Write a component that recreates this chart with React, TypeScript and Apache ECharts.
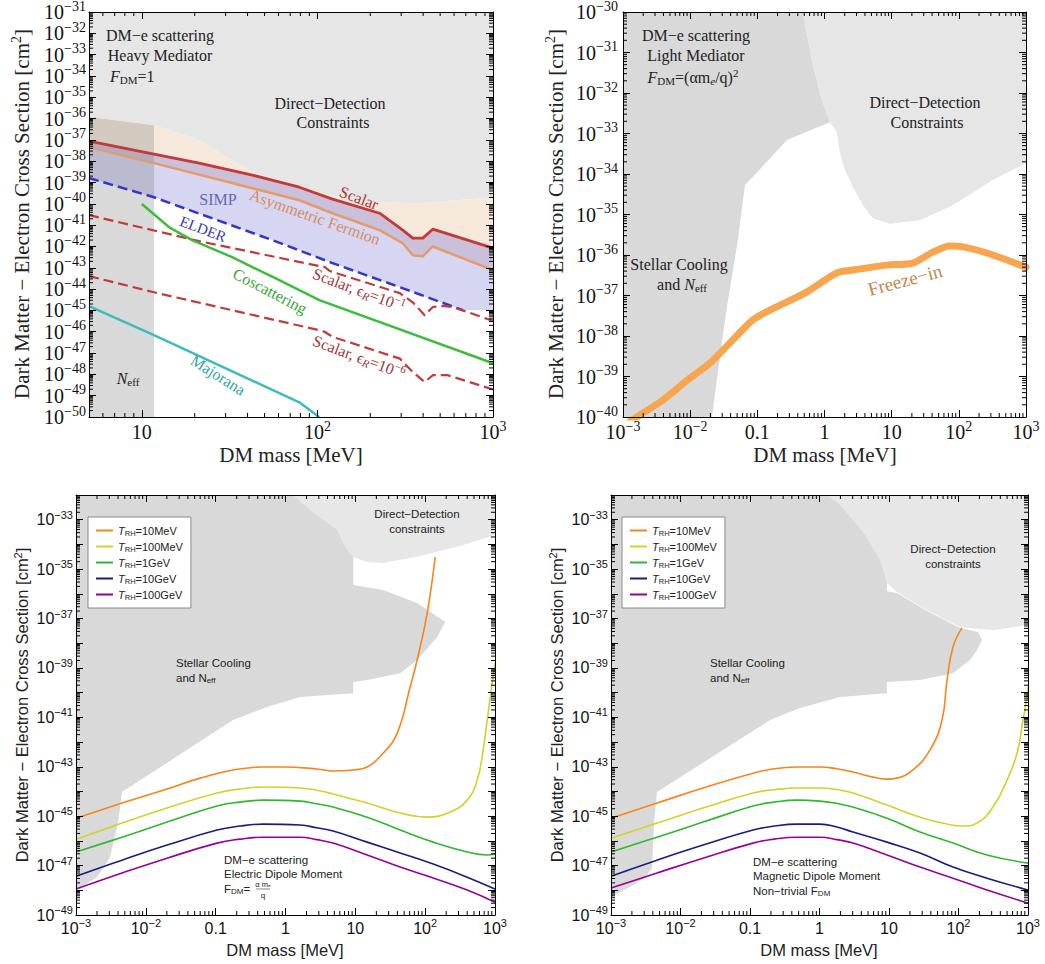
import React, { useEffect, useRef } from 'react';
import * as echarts from 'echarts';

// All points are [log10(mass / MeV), log10(sigma / cm^2)].
type P = [number, number];

// ---------- Panel A: heavy mediator ----------
const aDirectDetectionEdge: P[] = [[0.699,-35.93],[1.069,-36.31],[1.326,-37.01],[1.514,-37.95],[1.629,-38.51],[1.897,-39.17],[2.069,-39.59],[2.297,-39.92],[2.583,-39.97],[3,-39.69]];
const aScalar: P[] = [[0.699,-37.06],[1.069,-37.67],[1.326,-38.09],[1.629,-38.65],[1.897,-39.22],[2.086,-39.78],[2.354,-40.44],[2.486,-41.23],[2.543,-41.61],[2.6,-41.61],[2.657,-41.19],[3,-42.08]];
const aAsymFermion: P[] = [[0.699,-37.34],[1.069,-38.09],[1.897,-39.83],[2.086,-40.44],[2.354,-41.23],[2.486,-41.85],[2.543,-42.41],[2.6,-42.46],[2.657,-42.0],[3,-43.11]];
const aElder: P[] = [[0.699,-38.79],[1.069,-39.69],[1.743,-41.7],[2.086,-42.78],[2.469,-43.91],[2.829,-44.99]];
const aSimpFloor: P[] = [[3,-44.99]];
const aScalarEps1: P[] = [[0.699,-40.53],[1.326,-41.75],[2.011,-42.92],[2.04,-42.96],[2.07,-43.15],[2.469,-44.19],[2.543,-44.62],[2.611,-45.23],[2.657,-44.84],[2.714,-44.79],[2.771,-44.84],[3,-45.49]];
const aScalarEps6: P[] = [[0.699,-43.39],[1.069,-44.15],[2.011,-45.93],[2.04,-46.0],[2.086,-46.24],[2.469,-47.26],[2.543,-47.89],[2.611,-48.36],[2.657,-48.04],[2.743,-48.04],[3,-48.71]];
const aCoscattering: P[] = [[1.0,-40.01],[1.154,-41.09],[1.286,-41.7],[1.514,-42.5],[1.783,-43.58],[2.011,-44.52],[3,-47.48]];
const aMajorana: P[] = [[0.699,-44.8],[1.069,-46.16],[1.897,-49.31],[2.011,-50.01]];
const aNeffBand: P[] = [[0.699,-50],[0.699,-35.93],[1.069,-36.31],[1.069,-50]];

// ---------- Panel B: light mediator ----------
const bStellarEdge: P[] = [[-0.321,-30],[-0.188,-31.19],[-0.039,-32.17],[0.08,-32.72],[-0.56,-33.16],[-1.065,-34.07],[-1.185,-34.27],[-1.289,-35.63],[-1.452,-37.28],[-1.557,-38.52],[-1.676,-40]];
const bDirectDetectionEdge: P[] = [[-0.321,-30],[-0.188,-31.19],[-0.039,-32.17],[0.08,-32.72],[0.185,-32.96],[0.229,-33.48],[0.304,-33.9],[0.423,-34.32],[0.571,-34.77],[0.72,-35.09],[0.973,-35.23],[1.42,-35.14],[1.911,-34.77],[2.506,-34.15],[3,-33.73]];
const bFreezeIn: P[] = [[-2.9,-40.12],[-2.747,-39.95],[-2.405,-39.58],[-2.003,-39.04],[-1.705,-38.67],[-1.408,-38.17],[-1.065,-37.6],[-0.812,-37.36],[-0.56,-37.16],[-0.262,-36.91],[0.185,-36.44],[0.423,-36.37],[0.929,-36.25],[1.316,-36.2],[1.613,-35.93],[1.866,-35.78],[2.06,-35.8],[2.417,-35.95],[3,-36.3]];

// ---------- Panel C: electric dipole moment ----------
const cDirectDetectionEdge: P[] = [[0.109,-32],[0.352,-32.61],[0.739,-33.42],[0.854,-34.11],[0.968,-34.51],[1.169,-34.71],[1.398,-34.75],[1.928,-34.47],[2.501,-34.06],[3,-33.62]];
const cStellarEdge: P[] = [[0.97,-32],[0.97,-35.64],[1.398,-35.85],[1.885,-36.37],[2.287,-37.14],[2.172,-37.75],[1.885,-38.68],[1.642,-39.21],[1.169,-39.49],[0.97,-39.57],[0.97,-40.02],[0.209,-40.18],[-0.264,-40.58],[-0.751,-41.11],[-2.341,-44.02],[-2.398,-45.28],[-2.513,-46.66],[-2.699,-47.47],[-3,-48.0]];
const cTrh10MeV: P[] = [[-3,-45.08],[-2.341,-44.47],[-1.696,-43.9],[-1.224,-43.46],[-0.751,-43.13],[-0.321,-43.01],[-0.034,-43.01],[0.453,-43.09],[0.682,-43.17],[0.968,-43.13],[1.169,-43.01],[1.398,-42.45],[1.599,-41.64],[1.785,-39.77],[1.885,-38.68],[2.029,-36.78],[2.143,-34.51]];
const cTrh100MeV: P[] = [[-3,-45.93],[-2.341,-45.28],[-1.696,-44.67],[-0.98,-44.06],[-0.65,-43.9],[-0.321,-43.82],[0.209,-43.86],[0.45,-43.95],[0.682,-44.1],[1.169,-44.47],[1.642,-44.87],[2.029,-45.04],[2.358,-44.83],[2.602,-44.35],[2.745,-43.54],[2.831,-42.32],[2.888,-41.11],[2.946,-39.89],[3,-38.8]];
const cTrh1GeV: P[] = [[-3,-46.45],[-2.341,-45.85],[-1.696,-45.24],[-0.98,-44.59],[-0.65,-44.43],[-0.321,-44.35],[0.209,-44.39],[0.45,-44.5],[0.682,-44.63],[1.169,-45.04],[1.642,-45.56],[2.115,-46.05],[2.602,-46.45],[2.888,-46.57],[3,-46.53]];
const cTrh10GeV: P[] = [[-3,-47.43],[-2.341,-46.78],[-1.696,-46.17],[-0.98,-45.56],[-0.65,-45.4],[-0.321,-45.32],[0.209,-45.36],[0.45,-45.47],[0.682,-45.6],[1.169,-46.05],[1.642,-46.49],[2.115,-46.94],[2.602,-47.47],[3,-47.95]];
const cTrh100GeV: P[] = [[-3,-47.95],[-2.341,-47.3],[-1.696,-46.7],[-0.98,-46.09],[-0.65,-45.93],[-0.321,-45.85],[0.209,-45.85],[0.45,-45.95],[0.682,-46.09],[1.169,-46.57],[1.642,-47.06],[2.115,-47.5],[2.602,-47.99],[3,-48.48]];

// ---------- Panel D: magnetic dipole moment ----------
const dDirectDetectionEdge: P[] = [[0.108,-32],[0.295,-32.4],[0.482,-33.01],[0.655,-33.62],[0.871,-34.63],[0.971,-35.56],[1.115,-35.93],[1.547,-36.66],[2.022,-37.34],[2.496,-37.47],[3,-37.26]];
const dStellarEdge: P[] = [[0.97,-32],[0.97,-35.9],[1.115,-35.97],[1.547,-36.7],[2.022,-37.38],[2.281,-37.55],[2.338,-37.87],[2.266,-38.28],[2.165,-38.68],[1.921,-39.21],[1.446,-39.49],[0.97,-39.57],[0.97,-40.02],[0.295,-40.18],[-0.281,-40.62],[-0.712,-41.11],[-2.338,-44.02],[-2.381,-45.28],[-2.41,-47.1],[-2.511,-47.51],[-3,-48.28]];
const dTrh10MeV: P[] = [[-3,-45.08],[-2.338,-44.47],[-1.676,-43.86],[-0.957,-43.26],[-0.65,-43.08],[-0.324,-43.01],[0.007,-43.01],[0.25,-43.08],[0.482,-43.21],[0.77,-43.42],[0.971,-43.5],[1.115,-43.46],[1.345,-43.13],[1.59,-42.32],[1.763,-41.11],[1.835,-39.49],[1.921,-38.15],[2.05,-37.38]];
const dTrh100MeV: P[] = [[-3,-45.89],[-2.338,-45.28],[-1.676,-44.67],[-0.957,-44.06],[-0.65,-43.93],[-0.324,-43.86],[0.007,-43.86],[0.25,-43.92],[0.482,-44.06],[0.971,-44.55],[1.446,-45.04],[1.835,-45.32],[2.065,-45.4],[2.266,-45.28],[2.496,-44.63],[2.698,-43.54],[2.842,-42.45],[2.928,-41.11],[2.986,-40.18],[3,-39.77]];
const dTrh1GeV: P[] = [[-3,-46.45],[-2.338,-45.85],[-1.676,-45.24],[-0.957,-44.59],[-0.65,-44.43],[-0.324,-44.35],[0.007,-44.39],[0.25,-44.48],[0.482,-44.63],[0.971,-45.08],[1.446,-45.64],[1.921,-46.09],[2.41,-46.57],[3,-46.9]];
const dTrh10GeV: P[] = [[-3,-47.43],[-2.338,-46.78],[-1.676,-46.17],[-0.957,-45.56],[-0.65,-45.4],[-0.324,-45.32],[0.007,-45.32],[0.25,-45.44],[0.482,-45.64],[0.971,-46.05],[1.446,-46.49],[1.921,-47.06],[2.41,-47.51],[3,-47.99]];
const dTrh100GeV: P[] = [[-3,-47.91],[-2.338,-47.3],[-1.676,-46.7],[-0.957,-46.09],[-0.65,-45.93],[-0.324,-45.85],[0.007,-45.85],[0.25,-45.95],[0.482,-46.09],[0.971,-46.57],[1.446,-47.06],[1.921,-47.51],[2.41,-47.99],[3,-48.52]];

const reheatNames = ['T_RH=10MeV', 'T_RH=100MeV', 'T_RH=1GeV', 'T_RH=10GeV', 'T_RH=100GeV'];
const reheatColors = ['#f8841a', '#d2d22a', '#2fb82f', '#1b1b82', '#980098'];
const cReheat = [cTrh10MeV, cTrh100MeV, cTrh1GeV, cTrh10GeV, cTrh100GeV];
const dReheat = [dTrh10MeV, dTrh100MeV, dTrh1GeV, dTrh10GeV, dTrh100GeV];

// axis ranges
const aMassRange = [5, 1000];
const aSigmaRange = [1e-50, 1e-31];
const bMassRange = [1e-3, 1000];
const bSigmaRange = [1e-40, 1e-30];
const cdMassRange = [1e-3, 1000];
const cdSigmaRange = [1e-49, 1e-32];

const SERIF = '"Liberation Serif", "DejaVu Serif", "Times New Roman", serif';
const SANS = '"Liberation Sans", Arial, Helvetica, sans-serif';

const toVal = (pts: P[]) => pts.map(([lx, ly]) => [Math.pow(10, lx), Math.pow(10, ly)]);
const rev = (pts: P[]) => pts.slice().reverse();

function polygon(gi: number, pts: P[], fill: string, z = 1) {
  const data = toVal(pts);
  return {
    type: 'custom', xAxisIndex: gi * 2, yAxisIndex: gi * 2, silent: true, z, data,
    renderItem: (params: any, api: any) => {
      if (params.dataIndex !== 0) return null;
      return { type: 'polygon', shape: { points: data.map((d) => api.coord(d)) }, style: { fill } };
    },
  };
}

function curve(gi: number, pts: P[], color: string, width: number, o: any = {}) {
  return {
    type: 'line', name: o.name, xAxisIndex: gi * 2, yAxisIndex: gi * 2, data: toVal(pts),
    symbol: 'none', showSymbol: false, smooth: o.smooth || false,
    z: 3, silent: true, clip: true, emphasis: { disabled: true },
    lineStyle: { color, width, type: o.dash ? [10, 5] : 'solid', cap: o.cap || 'butt', join: 'round' },
    itemStyle: { color },
  };
}

function minorValues(lo: number, hi: number, e0: number, e1: number) {
  const out: number[] = [];
  for (let e = e0; e < e1; e++) for (let k = 2; k <= 9; k++) {
    const v = k * Math.pow(10, e);
    if (v > lo * 1.0001 && v < hi * 0.9999) out.push(v);
  }
  return out;
}

function minorX(gi: number, values: number[], yRef: number) {
  return {
    type: 'custom', xAxisIndex: gi * 2, yAxisIndex: gi * 2, silent: true, z: 12,
    data: values.map((v) => [v, yRef]),
    renderItem: (params: any, api: any) => {
      const cs = params.coordSys;
      const x = api.coord([api.value(0), api.value(1)])[0];
      const b = cs.y + cs.height;
      return { type: 'group', children: [
        { type: 'line', shape: { x1: x, y1: b, x2: x, y2: b - 4 }, style: { stroke: '#000', lineWidth: 1 } },
        { type: 'line', shape: { x1: x, y1: cs.y, x2: x, y2: cs.y + 4 }, style: { stroke: '#000', lineWidth: 1 } },
      ] };
    },
  };
}

function minorY(gi: number, values: number[], xRef: number) {
  return {
    type: 'custom', xAxisIndex: gi * 2, yAxisIndex: gi * 2, silent: true, z: 12,
    data: values.map((v) => [xRef, v]),
    renderItem: (params: any, api: any) => {
      const cs = params.coordSys;
      const y = api.coord([api.value(0), api.value(1)])[1];
      const r = cs.x + cs.width;
      return { type: 'group', children: [
        { type: 'line', shape: { x1: cs.x, y1: y, x2: cs.x + 4, y2: y }, style: { stroke: '#000', lineWidth: 1 } },
        { type: 'line', shape: { x1: r, y1: y, x2: r - 4, y2: y }, style: { stroke: '#000', lineWidth: 1 } },
      ] };
    },
  };
}

const expOf = (v: number) => {
  const e = Math.log10(v);
  const r = Math.round(e);
  return Math.abs(e - r) < 1e-6 ? r : null;
};
const supLabel = (r: number) => '{b|10}{s|' + (r < 0 ? '\u2212' : '') + Math.abs(r) + '}';
const xFmt = (v: number) => {
  const r = expOf(v);
  if (r === null) return '';
  if (r === -1) return '{b|0.1}';
  if (r === 0) return '{b|1}';
  if (r === 1) return '{b|10}';
  return supLabel(r);
};
// the bottom-most y label is drawn by yMinLabel so it is never dropped
const makeYFmt = (minVal: number, oddOnly: boolean) => (v: number) => {
  const r = expOf(v);
  if (r === null || r === expOf(minVal)) return '';
  if (oddOnly && Math.abs(r) % 2 === 0) return '';
  return supLabel(r);
};

function labelRich(font: string, size: number, ssize: number, pad: number) {
  return {
    b: { fontFamily: font, fontSize: size, color: '#111', lineHeight: size + 2 },
    s: { fontFamily: font, fontSize: ssize, color: '#111', lineHeight: size + 2, padding: [0, 0, pad, 0] },
  };
}

// bottom tick label of a y axis, placed through the axis scale
function yMinLabel(gi: number, xv: number, yv: number, font: string, size: number, ssize: number, pad: number, margin: number) {
  const r = expOf(yv) as number;
  return {
    type: 'custom', xAxisIndex: gi * 2, yAxisIndex: gi * 2, silent: true, z: 20, data: [[xv, yv]],
    renderItem: (params: any, api: any) => {
      const p = api.coord([api.value(0), api.value(1)]);
      return {
        type: 'text', x: p[0] - margin, y: p[1],
        style: {
          text: '{b|10}{s|\u2212' + Math.abs(r) + '}', align: 'right', verticalAlign: 'middle',
          fill: '#111', fontFamily: font, fontSize: size,
          rich: {
            b: { fontFamily: font, fontSize: size, fill: '#111', lineHeight: size + 2 },
            s: { fontFamily: font, fontSize: ssize, fill: '#111', lineHeight: size + 2, padding: [0, 0, pad, 0] },
          },
        },
      };
    },
  };
}

const AXIS_LINE = { show: true, onZero: false, lineStyle: { color: '#000', width: 1 } };
const TICK = { show: true, inside: true, length: 7, lineStyle: { color: '#000', width: 1 } };

function axisPair(kind: 'x' | 'y', gi: number, range: number[], interval: number | null, label: any) {
  const base: any = {
    type: 'log', logBase: 10, gridIndex: gi, min: range[0], max: range[1], z: 10,
    axisLine: AXIS_LINE, axisTick: TICK, splitLine: { show: false },
    minorTick: { show: false }, minorSplitLine: { show: false },
  };
  if (interval) base.interval = interval;
  return [
    { ...base, position: kind === 'x' ? 'bottom' : 'left',
      axisLabel: { show: true, margin: label.margin, formatter: label.fmt, rich: label.rich,
        showMinLabel: true, showMaxLabel: true, hideOverlap: false } },
    { ...base, position: kind === 'x' ? 'top' : 'right', axisLabel: { show: false } },
  ];
}

function txt(x: number, y: number, text: string, o: any = {}) {
  const font = o.font || SERIF;
  const size = o.size || 16;
  const color = o.color || '#222';
  const small = Math.round(size * 0.68);
  return {
    type: 'text', x, y, rotation: o.rot || 0, z: 100, silent: true,
    style: {
      text, fill: color, fontSize: size, fontFamily: font, fontStyle: o.italic ? 'italic' : 'normal',
      align: o.align || 'center', verticalAlign: 'middle',
      rich: {
        i: { fontSize: size, fontFamily: font, fontStyle: 'italic', fill: color },
        sub: { fontSize: small, fontFamily: font, fill: color, padding: [Math.round(size * 0.45), 0, 0, 0] },
        isub: { fontSize: small, fontFamily: font, fontStyle: 'italic', fill: color, padding: [Math.round(size * 0.45), 0, 0, 0] },
        sup: { fontSize: small, fontFamily: font, fill: color, padding: [0, 0, Math.round(size * 0.55), 0] },
      },
    },
  };
}

function buildOption() {
  const serifLab = { margin: 4, rich: labelRich(SERIF, 20, 14, 12) };
  const sansLab = { margin: 4, rich: labelRich(SANS, 16, 11, 10) };

  const xAxis = [
    ...axisPair('x', 0, aMassRange, null, { ...serifLab, fmt: xFmt }),
    ...axisPair('x', 1, bMassRange, 1, { ...serifLab, fmt: xFmt }),
    ...axisPair('x', 2, cdMassRange, 1, { ...sansLab, fmt: xFmt }),
    ...axisPair('x', 3, cdMassRange, 1, { ...sansLab, fmt: xFmt }),
  ];
  const yAxis = [
    ...axisPair('y', 0, aSigmaRange, 1, { ...serifLab, margin: 3, fmt: makeYFmt(aSigmaRange[0], false) }),
    ...axisPair('y', 1, bSigmaRange, 1, { ...serifLab, margin: 5, fmt: makeYFmt(bSigmaRange[0], false) }),
    ...axisPair('y', 2, cdSigmaRange, 1, { ...sansLab, margin: 3, fmt: makeYFmt(cdSigmaRange[0], true) }),
    ...axisPair('y', 3, cdSigmaRange, 1, { ...sansLab, margin: 3, fmt: makeYFmt(cdSigmaRange[0], true) }),
  ];

  const DD = '#e6e6e6';
  const STELLAR = '#d9d9d9';
  const RED = '#c23a3a';

  const series: any[] = [
    // Panel A fills
    polygon(0, [[0.699, -31], [3, -31], ...rev(aDirectDetectionEdge)], DD),
    polygon(0, [...aDirectDetectionEdge, ...rev(aScalar)], '#f6e9dc'),
    polygon(0, [...aScalar, ...rev(aAsymFermion)], '#cbc0da'),
    polygon(0, [...aAsymFermion, ...aSimpFloor, ...rev(aElder)], '#d6d6f3'),
    polygon(0, aNeffBand, 'rgba(120,120,120,0.28)', 1.5),
    // Panel A lines
    curve(0, aElder, '#3434cf', 2.5, { dash: true }),
    curve(0, aScalarEps1, RED, 2.2, { dash: true }),
    curve(0, aScalarEps6, RED, 2.2, { dash: true }),
    curve(0, aCoscattering, '#3cbd3c', 2.5),
    curve(0, aMajorana, '#3dbcbf', 2.5),
    curve(0, aAsymFermion, '#e49a6b', 2.5),
    curve(0, aScalar, RED, 2.8),
    // Panel B
    polygon(1, [[-3, -30], ...bStellarEdge, [-3, -40]], STELLAR),
    polygon(1, [...bDirectDetectionEdge, [3, -30]], DD),
    curve(1, bFreezeIn, '#f8a54f', 7, { smooth: 0.25, cap: 'round' }),
    // Panel C
    polygon(2, [[-3, -32], ...cStellarEdge], STELLAR),
    polygon(2, [...cDirectDetectionEdge, [3, -32]], '#e7e7e7'),
    ...cReheat.map((pts, i) => curve(2, pts, reheatColors[i], 1.6, { smooth: 0.45, name: reheatNames[i] })),
    // Panel D
    polygon(3, [[-3, -32], ...dStellarEdge], STELLAR),
    polygon(3, [...dDirectDetectionEdge, [3, -32]], '#e7e7e7'),
    ...dReheat.map((pts, i) => curve(3, pts, reheatColors[i], 1.6, { smooth: 0.45, name: reheatNames[i] })),
    // minor ticks
    minorX(0, minorValues(5, 1000, 0, 3), 1e-50),
    minorY(0, minorValues(1e-50, 1e-31, -50, -31), 5),
    minorX(1, minorValues(1e-3, 1000, -3, 3), 1e-40),
    minorY(1, minorValues(1e-40, 1e-30, -40, -30), 1e-3),
    minorX(2, minorValues(1e-3, 1000, -3, 3), 1e-49),
    minorY(2, minorValues(1e-49, 1e-32, -49, -32), 1e-3),
    minorX(3, minorValues(1e-3, 1000, -3, 3), 1e-49),
    minorY(3, minorValues(1e-49, 1e-32, -49, -32), 1e-3),
    // bottom y labels
    yMinLabel(0, aMassRange[0], aSigmaRange[0], SERIF, 20, 14, 12, 3),
    yMinLabel(1, bMassRange[0], bSigmaRange[0], SERIF, 20, 14, 12, 5),
    yMinLabel(2, cdMassRange[0], cdSigmaRange[0], SANS, 16, 11, 10, 3),
    yMinLabel(3, cdMassRange[0], cdSigmaRange[0], SANS, 16, 11, 10, 3),
  ];

  const legendRich = {
    i: { fontFamily: SANS, fontSize: 11, fontStyle: 'italic', color: '#222', lineHeight: 11 },
    s: { fontFamily: SANS, fontSize: 7.5, color: '#222', lineHeight: 11, padding: [5, 0, 0, 0] },
    n: { fontFamily: SANS, fontSize: 11, color: '#222', lineHeight: 11 },
  };
  const legendFmt = (name: string) => '{i|T}{s|RH}{n|' + name.replace('T_RH', '') + '}';
  const legendBase = {
    orient: 'vertical', top: 517, data: reheatNames, icon: 'rect', itemWidth: 17, itemHeight: 2, itemGap: 3,
    padding: [7, 8, 7, 8], borderColor: '#8a8a8a', borderWidth: 1, backgroundColor: '#fff',
    selectedMode: false, formatter: legendFmt,
    textStyle: { fontFamily: SANS, fontSize: 11, color: '#222', rich: legendRich, lineHeight: 11 },
  };

  const yTitle = 'Dark Matter \u2212 Electron Cross Section [cm{sup|2}]';
  const graphic = [
    // Panel A
    txt(160, 35, 'DM\u2212e scattering'),
    txt(160, 55, 'Heavy Mediator'),
    txt(110, 76, '{i|F}{sub|DM}=1', { align: 'left' }),
    txt(330, 103, 'Direct\u2212Detection'),
    txt(333, 122, 'Constraints'),
    txt(218, 199, 'SIMP', { color: '#6767b0' }),
    txt(359, 198, 'Scalar', { color: '#a83232', rot: -0.36 }),
    txt(315, 217, 'Asymmetric Fermion', { color: '#d68b5c', rot: -0.34 }),
    txt(203, 229, 'ELDER', { color: '#3a3ab8', rot: -0.36, size: 15 }),
    txt(270, 291, 'Coscattering', { color: '#37a837', rot: -0.48 }),
    txt(359, 290, 'Scalar, \u03f5{isub|R}=10{sup|\u22121}', { color: '#a83232', rot: -0.36 }),
    txt(359, 357, 'Scalar, \u03f5{isub|R}=10{sup|\u22126}', { color: '#a83232', rot: -0.36 }),
    txt(218, 375, 'Majorana', { color: '#2fa6a8', rot: -0.56 }),
    txt(128, 378, '{i|N}{sub|eff}'),
    txt(291, 455, 'DM mass [MeV]', { size: 21 }),
    txt(22, 214, yTitle, { size: 21, rot: Math.PI / 2 }),
    // Panel B
    txt(696, 35, 'DM\u2212e scattering'),
    txt(696, 55, 'Light Mediator'),
    txt(693, 77, '{i|F}{sub|DM}=(\u03b1m{isub|e}/q){sup|2}'),
    txt(925, 102, 'Direct\u2212Detection'),
    txt(927, 122, 'Constraints'),
    txt(679, 264, 'Stellar Cooling'),
    txt(682, 284, 'and {i|N}{sub|eff}'),
    txt(905, 280, 'Freeze\u2212in', { color: '#c4874a', size: 19, rot: 0.26 }),
    txt(825, 455, 'DM mass [MeV]', { size: 21 }),
    txt(556, 214, yTitle, { size: 21, rot: Math.PI / 2 }),
    // Panel C
    txt(417, 514, 'Direct\u2212Detection', { font: SANS, size: 11.5 }),
    txt(417, 529, 'constraints', { font: SANS, size: 11.5 }),
    txt(176, 663, 'Stellar Cooling', { font: SANS, size: 11.5, align: 'left' }),
    txt(176, 678, 'and N{sub|eff}', { font: SANS, size: 11.5, align: 'left' }),
    txt(224, 860, 'DM\u2212e scattering', { font: SANS, size: 11.5, align: 'left' }),
    txt(224, 874, 'Electric Dipole Moment', { font: SANS, size: 11.5, align: 'left' }),
    txt(224, 889, 'F{sub|DM}=', { font: SANS, size: 11.5, align: 'left' }),
    txt(263, 884, '\u03b1 m\u2091', { font: SANS, size: 7.5 }),
    { type: 'line', z: 100, silent: true, shape: { x1: 256, y1: 889, x2: 270, y2: 889 }, style: { stroke: '#333', lineWidth: 0.6 } },
    txt(263, 895, 'q', { font: SANS, size: 8 }),
    txt(285, 950, 'DM mass [MeV]', { font: SANS, size: 16.5 }),
    txt(22, 705, yTitle, { font: SANS, size: 16.5, rot: Math.PI / 2 }),
    // Panel D
    txt(953, 549, 'Direct\u2212Detection', { font: SANS, size: 11.5 }),
    txt(953, 564, 'constraints', { font: SANS, size: 11.5 }),
    txt(710, 663, 'Stellar Cooling', { font: SANS, size: 11.5, align: 'left' }),
    txt(710, 678, 'and N{sub|eff}', { font: SANS, size: 11.5, align: 'left' }),
    txt(753, 862, 'DM\u2212e scattering', { font: SANS, size: 11.5, align: 'left' }),
    txt(753, 876, 'Magnetic Dipole Moment', { font: SANS, size: 11.5, align: 'left' }),
    txt(753, 891, 'Non\u2212trivial F{sub|DM}', { font: SANS, size: 11.5, align: 'left' }),
    txt(819, 950, 'DM mass [MeV]', { font: SANS, size: 16.5 }),
    txt(557, 705, yTitle, { font: SANS, size: 16.5, rot: Math.PI / 2 }),
  ];

  return {
    animation: false,
    backgroundColor: '#ffffff',
    grid: [
      { left: 89, top: 12, width: 404, height: 405, outerBoundsMode: 'none', containLabel: false },
      { left: 623, top: 12, width: 403, height: 405, outerBoundsMode: 'none', containLabel: false },
      { left: 76, top: 495, width: 419, height: 420, outerBoundsMode: 'none', containLabel: false },
      { left: 611, top: 495, width: 417, height: 420, outerBoundsMode: 'none', containLabel: false },
    ],
    xAxis,
    yAxis,
    legend: [
      { ...legendBase, left: 88 },
      { ...legendBase, left: 622 },
    ],
    series,
    graphic,
  };
}

export default function App() {
  const ref = useRef<HTMLDivElement>(null);
  useEffect(() => {
    const chart = echarts.init(ref.current as HTMLDivElement, null, { renderer: 'svg' });
    chart.setOption(buildOption() as any);
    return () => chart.dispose();
  }, []);
  return (
    <div
      ref={ref}
      style={{ position: 'fixed', left: 0, top: 0, width: 1045, height: 964, background: '#fff' }}
    />
  );
}
